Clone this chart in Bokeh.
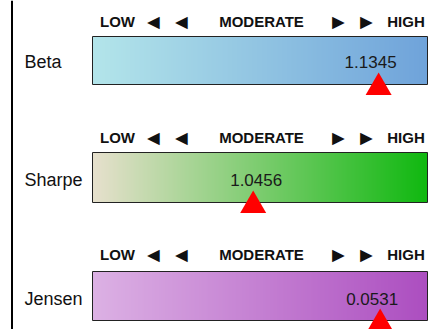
import numpy as np
from bokeh.plotting import figure
from bokeh.models import Range1d
from bokeh.embed import file_html
from bokeh.resources import INLINE
from bokeh.core.properties import value

# ---- data ----
metrics = ["Beta", "Sharpe", "Jensen"]
values = [1.1345, 1.0456, 0.0531]
value_labels = [f"{v:.4f}" for v in values]
scale_low = [0.40, 0.00, -0.080]
scale_high = [1.26, 2.18, 0.075]
scale_words = ["LOW", "MODERATE", "HIGH"]
scale_arrows = ["\u25C4", "\u25C4", "\u25BA", "\u25BA"]
colors_start = ["#b3e5ea", "#e7e0cd", "#dcb1e4"]
colors_end = ["#6fa3da", "#10b810", "#ac4ec0"]

# ---- layout (page pixels) ----
W, H = 437, 329
PAGE_TOP, PAGE_BOTTOM = 0, 329
def Y(py):
    return PAGE_BOTTOM - py

row_top = [36, 152, 271]
row_bottom = [84, 202, 320]
header_mid = [20.5, 137, 253.7]
label_mid = [61.7, 179.7, 298.3]
words_x = [117, 261, 405.5]
arrows_x = [153, 181, 338, 366]
value_dx = [-8, 3, -8]
bar_left_px, bar_right_px = 92, 427
frame_left_px, frame_right_px = 0, W
FONT = "Liberation Sans"

p = figure(width=W, height=H, output_backend="svg", toolbar_location=None,
           x_range=Range1d(frame_left_px, frame_right_px), y_range=Range1d(0, H),
           x_axis_location=None, y_axis_location=None, min_border=0)
p.grid.visible = False
p.outline_line_color = None
p.background_fill_color = "white"
p.border_fill_color = "white"

bar_px = bar_right_px - bar_left_px
extra = {}
for i, m in enumerate(metrics):
    lo, hi = scale_low[i], scale_high[i]
    span = hi - lo
    extra[m] = Range1d(lo - (bar_left_px - frame_left_px) / bar_px * span,
                       hi + (frame_right_px - bar_right_px) / bar_px * span)
p.extra_x_ranges = extra

def hex2rgb(h):
    h = h.lstrip("#")
    return np.array([int(h[k:k + 2], 16) for k in (0, 2, 4)], dtype=float)

# left divider line
p.segment(x0=[11.5], y0=[Y(PAGE_TOP)], x1=[11.5], y1=[Y(PAGE_BOTTOM)],
          line_color="black", line_width=2)

N = 256
for i, m in enumerate(metrics):
    lo, hi = scale_low[i], scale_high[i]
    c0, c1 = hex2rgb(colors_start[i]), hex2rgb(colors_end[i])
    t = np.linspace(0, 1, N)[:, None]
    rgb = (1 - t) * c0 + t * c1
    img = np.empty((1, N), dtype=np.uint32)
    view = img.view(dtype=np.uint8).reshape((1, N, 4))
    view[0, :, 0:3] = np.round(rgb).astype(np.uint8)
    view[0, :, 3] = 255
    p.image_rgba(image=[img], x=lo, y=Y(row_bottom[i]), dw=hi - lo,
                 dh=row_bottom[i] - row_top[i], x_range_name=m)
    p.quad(left=[lo], right=[hi], top=[Y(row_top[i])], bottom=[Y(row_bottom[i])],
           fill_color=None, line_color="#222222", line_width=1, x_range_name=m)
    # header scale
    p.text(x=words_x, y=[Y(header_mid[i])] * len(scale_words), text=scale_words,
           text_align="center", text_baseline="middle",
           text_font=value(FONT), text_font_style="bold", text_font_size="15px",
           text_color="#111111")
    p.text(x=arrows_x, y=[Y(header_mid[i])] * len(scale_arrows), text=scale_arrows,
           text_align="center", text_baseline="middle",
           text_font=value(FONT), text_font_size="21px",
           text_color="#111111")
    # metric label
    p.text(x=[24], y=[Y(label_mid[i])], text=[m], text_align="left",
           text_baseline="middle", text_font=value(FONT), text_font_size="18px",
           text_color="#111111")
    # value label
    p.text(x=[values[i]], y=[Y(label_mid[i])], text=[value_labels[i]],
           x_offset=value_dx[i], text_align="center", text_baseline="middle",
           text_font=value(FONT), text_font_size="17px", text_color="#1a1a1a",
           x_range_name=m)
    # marker
    p.scatter(x=[values[i]], y=[Y(row_bottom[i] + 3)], marker="triangle", size=26,
              fill_color="#ff0000", line_color=None, x_range_name=m)

open("out.html", "w").write(file_html(p, INLINE))
